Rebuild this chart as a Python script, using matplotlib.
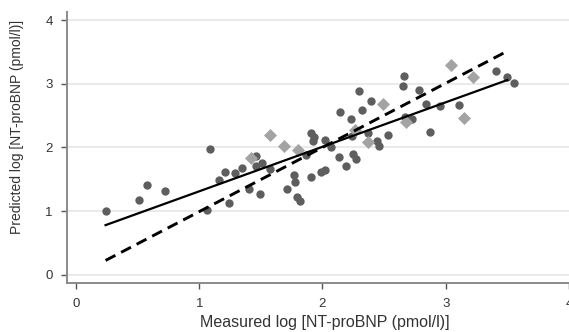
import numpy as np
import matplotlib
matplotlib.use("Agg")
import matplotlib.pyplot as plt

plt.rcParams['font.family'] = ['Liberation Sans', 'DejaVu Sans']

# circles (dark grey)
meas_a = [0.24, 0.51, 0.58, 0.72, 1.06, 1.09, 1.16, 1.21, 1.24, 1.29, 1.35, 1.40,
          1.46, 1.46, 1.51, 1.49, 1.57, 1.71, 1.77, 1.78, 1.79, 1.82, 1.87, 1.91,
          1.91, 1.92, 1.93, 1.99, 2.02, 2.02, 2.07, 2.13, 2.14, 2.19, 2.23, 2.24,
          2.25, 2.27, 2.30, 2.32, 2.39, 2.37, 2.44, 2.46, 2.53, 2.65, 2.66, 2.67,
          2.73, 2.78, 2.84, 2.87, 2.95, 3.11, 3.41, 3.50, 3.55]
pred_a = [1.00, 1.18, 1.41, 1.32, 1.01, 1.97, 1.48, 1.61, 1.13, 1.60, 1.68, 1.34,
          1.86, 1.71, 1.76, 1.27, 1.66, 1.35, 1.56, 1.46, 1.22, 1.16, 1.88, 1.53,
          2.22, 2.10, 2.16, 1.61, 1.64, 2.11, 2.01, 1.85, 2.56, 1.71, 2.44, 2.18,
          1.90, 1.82, 2.88, 2.59, 2.73, 2.22, 2.10, 2.02, 2.19, 2.97, 3.13, 2.48,
          2.44, 2.91, 2.69, 2.24, 2.65, 2.67, 3.20, 3.11, 3.01]

# diamonds (light grey)
meas_b = [1.42, 1.57, 1.69, 1.80, 2.26, 2.37, 2.49, 2.68, 3.04, 3.15, 3.22]
pred_b = [1.83, 2.20, 2.03, 1.96, 2.28, 2.09, 2.68, 2.40, 3.30, 2.47, 3.11]

# fitted line and line of identity-ish
fit_range = [0.24, 3.50]
fit_solid = (0.61, 0.70)    # intercept, slope
fit_dashed = (-0.02, 1.01)

fig = plt.figure(figsize=(5.69, 3.32), dpi=100)
ax = fig.add_axes([67 / 569, 48.7 / 332, 502 / 569, 271.3 / 332])

for yv in [0, 1, 2, 3, 4]:
    ax.axhline(yv, color='#e6e6e6', lw=1.2, zorder=0)

ax.scatter(meas_a, pred_a, s=36, marker='o', color='#5e5e5e', lw=0, zorder=3)
ax.scatter(meas_b, pred_b, s=44, marker='D', color='#a3a3a3', lw=0, zorder=3)

xx = np.array(fit_range)
ax.plot(xx, fit_solid[0] + fit_solid[1] * xx, color='black', lw=1.6, zorder=4)
ax.plot(xx, fit_dashed[0] + fit_dashed[1] * xx, color='black', lw=2.1,
        dashes=(3.8, 2.2), zorder=4)

ax.set_xlim(-0.073, 4.0)
ax.set_ylim(-0.137, 4.13)
ax.set_xticks([0, 1, 2, 3, 4])
ax.set_yticks([0, 1, 2, 3, 4])

for s in ['top', 'right']:
    ax.spines[s].set_visible(False)
for s in ['left', 'bottom']:
    ax.spines[s].set_color('#8a8a8a')
    ax.spines[s].set_linewidth(1.4)

ax.tick_params(axis='both', length=4.3, width=1, color='#555555', labelsize=9.5,
               labelcolor='#333333', pad=6)

ax.set_xlabel('Measured log [NT-proBNP (pmol/l)]', fontsize=11.5, color='#333333', labelpad=4)
ax.xaxis.label.set_x(0.513)
ax.set_ylabel('Predicted log [NT-proBNP (pmol/l)]', fontsize=10, color='#333333', labelpad=15)
ax.yaxis.label.set_y(0.578)

fig.savefig('out.png', dpi=100)
